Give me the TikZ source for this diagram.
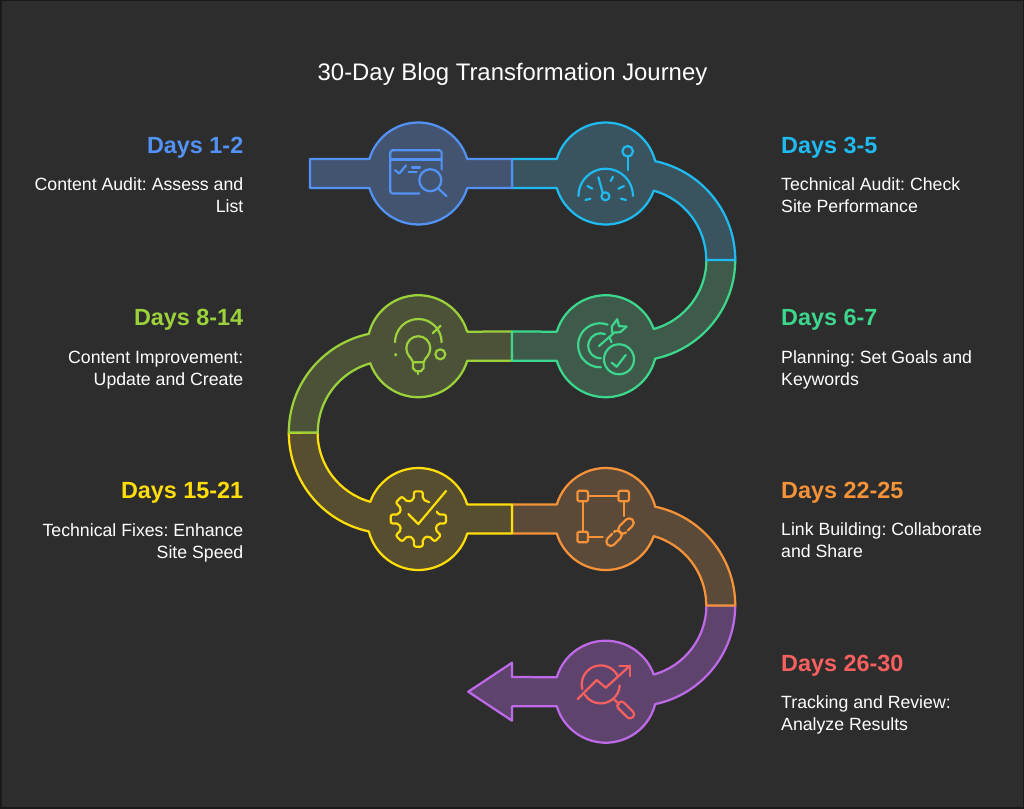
\documentclass[tikz,border=0pt]{standalone}
\usepackage{fontspec}
\setmainfont{Liberation Sans}

\definecolor{bgdark}{RGB}{45,45,45}
\definecolor{bluepath}{RGB}{82,146,245}
\definecolor{cyanpath}{RGB}{30,186,240}
\definecolor{greenpath}{RGB}{60,214,140}
\definecolor{limepath}{RGB}{155,210,60}
\definecolor{yellowpath}{RGB}{255,221,10}
\definecolor{orangepath}{RGB}{246,146,56}
\definecolor{purplepath}{RGB}{190,105,232}
\definecolor{redicon}{RGB}{248,96,96}
\definecolor{bluefill}{RGB}{66,84,112}
\definecolor{cyanfill}{RGB}{57,84,95}
\definecolor{greenfill}{RGB}{62,90,75}
\definecolor{limefill}{RGB}{76,82,56}
\definecolor{yellowfill}{RGB}{86,78,46}
\definecolor{orangefill}{RGB}{92,74,56}
\definecolor{purplefill}{RGB}{94,68,108}

\tikzset{
  band/.style 2 args={draw=#1,fill=#2,line width=2.25,line join=round},
  icon/.style={draw=#1,line width=2.2,line cap=round,line join=round},
  dayhead/.style={text=#1,inner sep=0,font=\fontsize{23.4}{27}\selectfont\bfseries},
  daytext/.style={text=white,inner sep=0,font=\fontsize{17.7}{22}\selectfont\frenchspacing},
}

\begin{document}
\begin{tikzpicture}[x=1pt,y=1pt,yscale=-1,xscale=1]
\useasboundingbox (0,0) rectangle (1024,808);

%Background
\draw [fill=bgdark,draw=black!90,line width=3] (0,0) rectangle (1024,808);

%Purple band with arrow
\draw [band={purplepath}{purplefill},shift={(605.7,691.7)}] (129.5,-86.3) arc[start angle=0,end angle=78.06,radius=100.9] -- (14:51) arc[start angle=14,end angle=163.4,radius=51] -- (-93.7,14.6) -- (-93.7,29) -- (-137.4,0) -- (-93.7,-29) -- (-93.7,-14.6) -- (196.6:51) arc[start angle=196.6,end angle=340.3,radius=51] arc[start angle=74.5,end angle=0,radius=71.9] -- cycle;

%Orange band
\draw [band={orangepath}{orangefill},shift={(605.7,519)}] (-93.7,-14.6) -- (196.6:51) arc[start angle=196.6,end angle=346,radius=51] arc[start angle=281.94,end angle=360,radius=100.9] -- ++(-29,0) arc[start angle=0,end angle=-74.5,radius=71.9] -- (19.7:51) arc[start angle=19.7,end angle=163.4,radius=51] -- (-93.7,14.6) -- cycle;

%Yellow band
\draw [band={yellowpath}{yellowfill},shift={(418.3,519)}] (-129.5,-86.3) arc[start angle=180,end angle=101.94,radius=100.9] -- (166:51) arc[start angle=166,end angle=16.6,radius=51] -- (93.7,14.6) -- (93.7,-14.6) -- (343.4:51) arc[start angle=343.4,end angle=199.7,radius=51] arc[start angle=105.5,end angle=180,radius=71.9] -- cycle;

%Lime band
\draw [band={limepath}{limefill},shift={(418.3,346.2)}] (93.7,-14.6) -- (343.4:51) arc[start angle=343.4,end angle=194,radius=51] arc[start angle=258.06,end angle=180,radius=100.9] -- ++(29,0) arc[start angle=180,end angle=254.5,radius=71.9] -- (160.3:51) arc[start angle=160.3,end angle=16.6,radius=51] -- (93.7,14.6) -- cycle;

%Green band
\draw [band={greenpath}{greenfill},shift={(605.7,346.2)}] (129.5,-86.3) arc[start angle=0,end angle=78.06,radius=100.9] -- (14:51) arc[start angle=14,end angle=163.4,radius=51] -- (-93.7,14.6) -- (-93.7,-14.6) -- (196.6:51) arc[start angle=196.6,end angle=340.3,radius=51] arc[start angle=74.5,end angle=0,radius=71.9] -- cycle;

%Cyan band
\draw [band={cyanpath}{cyanfill},shift={(605.7,173.5)}] (-93.7,-14.6) -- (196.6:51) arc[start angle=196.6,end angle=346,radius=51] arc[start angle=281.94,end angle=360,radius=100.9] -- ++(-29,0) arc[start angle=0,end angle=-74.5,radius=71.9] -- (19.7:51) arc[start angle=19.7,end angle=163.4,radius=51] -- (-93.7,14.6) -- cycle;

%Blue band
\draw [band={bluepath}{bluefill},shift={(418.3,173.5)}] (93.7,-14.6) -- (343.4:51) arc[start angle=343.4,end angle=196.6,radius=51] -- (-108.3,-14.6) -- (-108.3,14.6) -- (163.4:51) arc[start angle=163.4,end angle=16.6,radius=51] -- (93.7,14.6) -- cycle;

%Icon: window and magnifier
\draw [icon=bluepath,shift={(418.3,173.5)}] (1,20) -- (-26,20) -- (-28,18) -- (-28,-21.3) -- (-26,-23.3) -- (21.3,-23.3) -- (23.3,-21.3) -- (23.3,-4);
\draw [icon=bluepath,shift={(418.3,173.5)}] (-28,-14) -- (23.3,-14);
\draw [icon=bluepath,shift={(418.3,173.5)}] (-23.3,-3.3) -- (-19,0) -- (-12.3,-8);
\draw [icon=bluepath,shift={(418.3,173.5)}] (-6.3,-6) -- (1.7,-6);
\draw [icon=bluepath,shift={(418.3,173.5)}] (-9.7,-1.3) -- (-1.7,-1.3);
\draw [icon=bluepath,shift={(418.3,173.5)}] (12,6.7) circle [radius=11];
\draw [icon=bluepath,shift={(418.3,173.5)}] (20.3,15.3) -- (28.3,22.7);

%Icon: gauge and pin
\draw [icon=cyanpath,shift={(605.7,173.5)}] (-27.3,22.5) arc[start angle=180,end angle=360,radius=27.3];
\draw [icon=cyanpath,shift={(605.7,173.5)}] (-0.3,22.8) circle [radius=4];
\draw [icon=cyanpath,shift={(605.7,173.5)}] (-7.3,3.8) -- (-3,19.2);
\draw [icon=cyanpath,shift={(605.7,173.5)}] (-18.3,12.5) -- (-13.3,15.2);
\draw [icon=cyanpath,shift={(605.7,173.5)}] (-20.3,26.5) -- (-15.3,25.2);
\draw [icon=cyanpath,shift={(605.7,173.5)}] (5,7.5) -- (7.3,3.2);
\draw [icon=cyanpath,shift={(605.7,173.5)}] (12.7,15.2) -- (18.3,12.5);
\draw [icon=cyanpath,shift={(605.7,173.5)}] (15.3,25.2) -- (20.3,26.5);
\draw [icon=cyanpath,shift={(605.7,173.5)}] (22,-22.2) circle [radius=5.3];
\draw [icon=cyanpath,shift={(605.7,173.5)}] (22,-16.8) -- (22,-3.5);

%Icon: target and check
\draw [icon=greenpath,shift={(605.7,346.2)}] (1.9,-21.6) arc[start angle=290,end angle=88,radius=22];
\draw [icon=greenpath,shift={(605.7,346.2)}] (-0.7,-12.2) arc[start angle=290,end angle=90,radius=12.5];
\draw [icon=greenpath,shift={(605.7,346.2)}] (-6.7,-0.2) -- (8,-13);
\draw [icon=greenpath,shift={(605.7,346.2)}] (3.5,-9.5) -- (5.8,-4);
\draw [icon=greenpath,shift={(605.7,346.2)}] (6.5,-13.5) -- (6,-19.5) -- (11.5,-27) -- (13.3,-20) -- (21,-19.7) -- (14.5,-14) -- cycle;
\draw [icon=greenpath,shift={(605.7,346.2)}] (13.3,13.1) circle [radius=15];
\draw [icon=greenpath,shift={(605.7,346.2)}] (6,16.5) -- (11,20.5) -- (20,8.8);

%Icon: bulb
\draw [icon=limepath,shift={(418.3,346.2)}] (-23.3,-3.9) arc[start angle=180,end angle=360,radius=23.3];
\draw [icon=limepath,shift={(418.3,346.2)}] (14.3,-12.9) -- (22.3,-20.5);
\draw [icon=limepath,shift={(418.3,346.2)}] (22,8.1) circle [radius=5];
\draw [fill=limepath,draw=none,shift={(418.3,346.2)}] (-22.7,8.5) circle [radius=1.7];
\draw [icon=limepath,shift={(418.3,346.2)}] (-5.3,16) .. controls (-7,11) and (-12,9) .. (-12,2) arc[start angle=180,end angle=360,radius=12] .. controls (12,9) and (7,11) .. (5.3,16) -- cycle;
\draw [icon=limepath,shift={(418.3,346.2)}] (-5.3,16) -- (-5.3,22) -- (-2.5,25) -- (2.5,25) -- (5.3,22) -- (5.3,16);
\draw [icon=limepath,shift={(418.3,346.2)}] (0,25) -- (0,28);

%Icon: gear and check
\draw [icon=yellowpath,shift={(418.3,519)},rounded corners=2] (303:20) -- (283:20) -- (279:28) -- (261:28) -- (257:20) -- (238:20) -- (234:28) -- (216:28) -- (212:20) -- (193:20) -- (189:28) -- (171:28) -- (167:20) -- (148:20) -- (144:28) -- (126:28) -- (122:20) -- (103:20) -- (99:28) -- (81:28) -- (77:20) -- (58:20) -- (54:28) -- (36:28) -- (32:20) -- (13:20) -- (9:28) -- (-9:28) -- (-13:20) -- (-22:20);
\draw [icon=yellowpath,shift={(418.3,519)}] (-10,-5) -- (0,5) -- (27.7,-28);

%Icon: squares and link
\draw [icon=orangepath,shift={(605.7,519)},rounded corners=1.5] (-28.3,-28.3) rectangle (-17.7,-17.7);
\draw [icon=orangepath,shift={(605.7,519)},rounded corners=1.5] (12.7,-28.3) rectangle (23.3,-17.7);
\draw [icon=orangepath,shift={(605.7,519)},rounded corners=1.5] (-28.3,12.7) rectangle (-17.7,23.3);
\draw [icon=orangepath,shift={(605.7,519)}] (-17.7,-23) -- (12.7,-23);
\draw [icon=orangepath,shift={(605.7,519)}] (-23,-17.7) -- (-23,12.7);
\draw [icon=orangepath,shift={(605.7,519)}] (18,-17.7) -- (18,-3);
\draw [icon=orangepath,shift={(605.7,519)}] (-17.7,18) -- (-3,18);
\draw [icon=orangepath,shift={(626,526)},rotate=-45,rounded corners=4.4] (-2,4.5) -- (9,4.5) -- (9,-4.5) -- (-9,-4.5) -- (-9,4.5) -- (-6,4.5);
\draw [icon=orangepath,shift={(614,538.3)},rotate=-45,rounded corners=4.4] (2,-4.5) -- (-9,-4.5) -- (-9,4.5) -- (9,4.5) -- (9,-4.5) -- (6,-4.5);

%Icon: chart and magnifier
\draw [icon=redicon,shift={(605.7,691.7)}] (-23.4,-2.7) arc[start angle=166,end angle=331,radius=19];
\draw [icon=redicon,shift={(605.7,691.7)}] (14,-6.3) arc[start angle=3,end angle=147,radius=19];
\draw [icon=redicon,shift={(605.7,691.7)}] (-28,7.3) -- (-9,-11.7) -- (0,-4) -- (24.3,-26);
\draw [icon=redicon,shift={(605.7,691.7)}] (13.7,-26) -- (24.3,-26) -- (24.3,-15.7);
\draw [icon=redicon,shift={(605.7,691.7)}] (8.3,7.7) -- (13.3,12.3);
\draw [icon=redicon,shift={(605.7,691.7)},rotate around={45:(20,18.3)},rounded corners=3.5] (10,14.3) rectangle (30,22.3);

%Title
\draw (512.5,74) node (title) [text=white,inner sep=0,font=\fontsize{23.9}{28}\selectfont] {30-Day Blog Transformation Journey};

%Labels left
\draw (243.5,147.5) node (head1) [dayhead=bluepath,anchor=east] {Days 1-2};
\draw (243.5,195) node (text1) [daytext,anchor=east,align=right] {Content Audit: Assess and\\List};
\draw (243.5,320) node (head4) [dayhead=limepath,anchor=east] {Days 8-14};
\draw (243.5,370.3) node (text4) [daytext,anchor=east,align=right] {Content Improvement:\\Update and Create};
\draw (243.5,493) node (head5) [dayhead=yellowpath,anchor=east] {Days 15-21};
\draw (243.5,542.7) node (text5) [daytext,anchor=east,align=right] {Technical Fixes: Enhance\\Site Speed};

%Labels right
\draw (781,147.5) node (head2) [dayhead=cyanpath,anchor=west] {Days 3-5};
\draw (781,195) node (text2) [daytext,anchor=west,align=left] {Technical Audit: Check\\Site Performance};
\draw (781,320) node (head3) [dayhead=greenpath,anchor=west] {Days 6-7};
\draw (781,370.3) node (text3) [daytext,anchor=west,align=left] {Planning: Set Goals and\\Keywords};
\draw (781,493) node (head6) [dayhead=orangepath,anchor=west] {Days 22-25};
\draw (781,540.5) node (text6) [daytext,anchor=west,align=left] {Link Building: Collaborate\\and Share};
\draw (781,665.5) node (head7) [dayhead=redicon,anchor=west] {Days 26-30};
\draw (781,715.2) node (text7) [daytext,anchor=west,align=left] {Tracking and Review:\\Analyze Results};

\end{tikzpicture}
\end{document}
